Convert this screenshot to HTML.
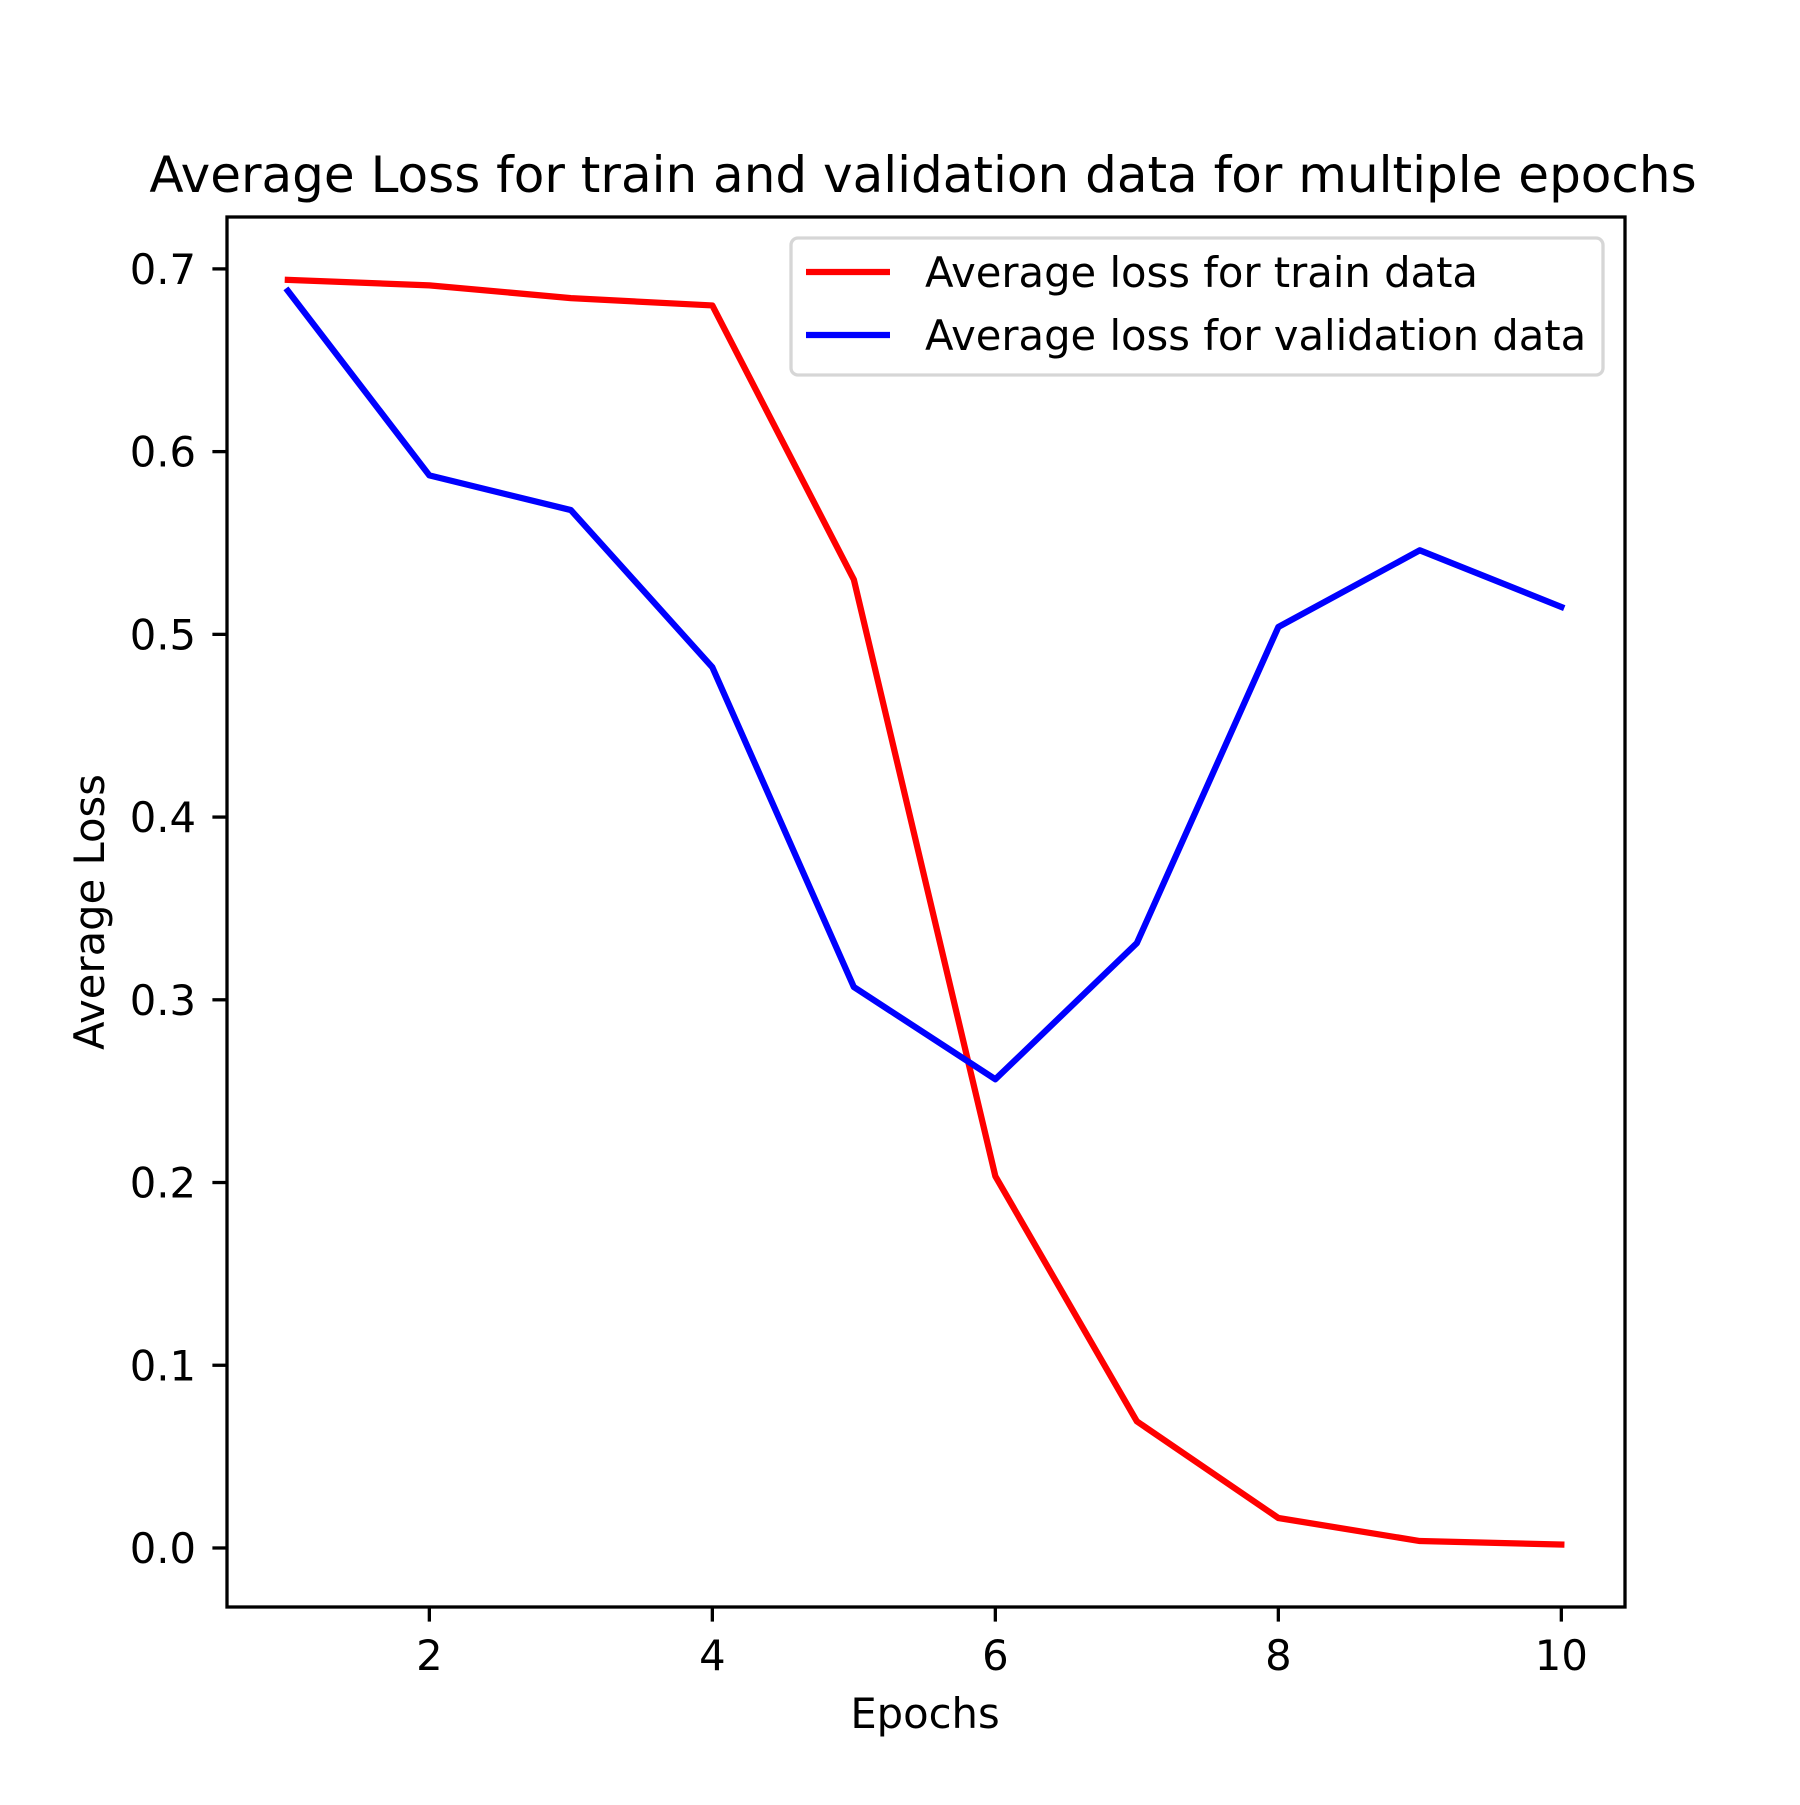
<!DOCTYPE html>
<html><head><meta charset="utf-8"><style>
html,body{margin:0;padding:0;background:#fff;}
svg text{font-family:"DejaVu Sans","Liberation Sans",sans-serif;fill:#000;}
</style></head><body>
<svg id="chart" width="1800" height="1800" viewBox="0 0 1800 1800" xmlns="http://www.w3.org/2000/svg">
<rect width="1800" height="1800" fill="#fff"/>
<g id="marks"></g>
<g id="axes"></g>
</svg>
<script>
const epochs = [1,2,3,4,5,6,7,8,9,10];
const trainLoss = [0.694,0.691,0.684,0.680,0.530,0.2035,0.0693,0.0164,0.0038,0.0019];
const valLoss = [0.688,0.587,0.568,0.482,0.307,0.2565,0.331,0.504,0.546,0.515];
const xTicks = [2,4,6,8,10];
const yTicks = [0.0,0.1,0.2,0.3,0.4,0.5,0.6,0.7];

const L=227,R=1625,T=217,B=1607;
const xMin=0.57,xMax=10.45,yMin=-0.0323,yMax=0.7284;
const xs=v=>L+(v-xMin)/(xMax-xMin)*(R-L);
const ys=v=>B-(v-yMin)/(yMax-yMin)*(B-T);
const NS='http://www.w3.org/2000/svg';
function mk(tag,attrs,parent){const e=document.createElementNS(NS,tag);for(const k in attrs)e.setAttribute(k,attrs[k]);parent.appendChild(e);return e;}
const marks=document.getElementById('marks'), axes=document.getElementById('axes');

function series(vals,color,name){
  const p=mk('polyline',{points:vals.map((v,i)=>xs(epochs[i])+','+ys(v)).join(' '),fill:'none',stroke:color,'stroke-width':6.25,'stroke-linejoin':'round','stroke-linecap':'square'},marks);
  
  
}
series(trainLoss,'#ff0000','train-loss-line');
series(valLoss,'#0000ff','validation-loss-line');

const frame=mk('rect',{x:L,y:T,width:R-L,height:B-T,fill:'none',stroke:'#000','stroke-width':3.3},axes);



xTicks.forEach(t=>{
  const x=xs(t);
  const tk=mk('line',{x1:x,x2:x,y1:B,y2:B+14.6,stroke:'#000','stroke-width':3.3},axes);
  
  
  const tx=mk('text',{x:x,y:1670,'text-anchor':'middle','font-size':41.7},axes);
  tx.textContent=String(t);
  
  
});
yTicks.forEach(t=>{
  const y=ys(t);
  const tk=mk('line',{x1:L-14.6,x2:L,y1:y,y2:y,stroke:'#000','stroke-width':3.3},axes);
  
  
  const tx=mk('text',{x:196,y:y+15,'text-anchor':'end','font-size':41.7},axes);
  tx.textContent=t.toFixed(1);
  
  
});
</script>
<svg style="position:absolute;left:0;top:0" width="1800" height="1800" xmlns="http://www.w3.org/2000/svg">
<text x="923" y="192" text-anchor="middle" font-size="50">Average Loss for train and validation data for multiple epochs</text>
<text x="925" y="1728" text-anchor="middle" font-size="41.7">Epochs</text>
<text transform="translate(104,912) rotate(-90)" text-anchor="middle" font-size="41.7">Average Loss</text>
<g>
<rect x="791" y="238" width="812" height="137" rx="7" fill="#fff" fill-opacity="0.8" stroke="#d6d6d6" stroke-width="3.3"/>
<line x1="806" x2="890" y1="272" y2="272" stroke="#ff0000" stroke-width="6.25"/>
<text x="925" y="287" font-size="41.7">Average loss for train data</text>
<line x1="806" x2="890" y1="335" y2="335" stroke="#0000ff" stroke-width="6.25"/>
<text x="925" y="350" font-size="41.7">Average loss for validation data</text>
</g>
</svg>
</body></html>
